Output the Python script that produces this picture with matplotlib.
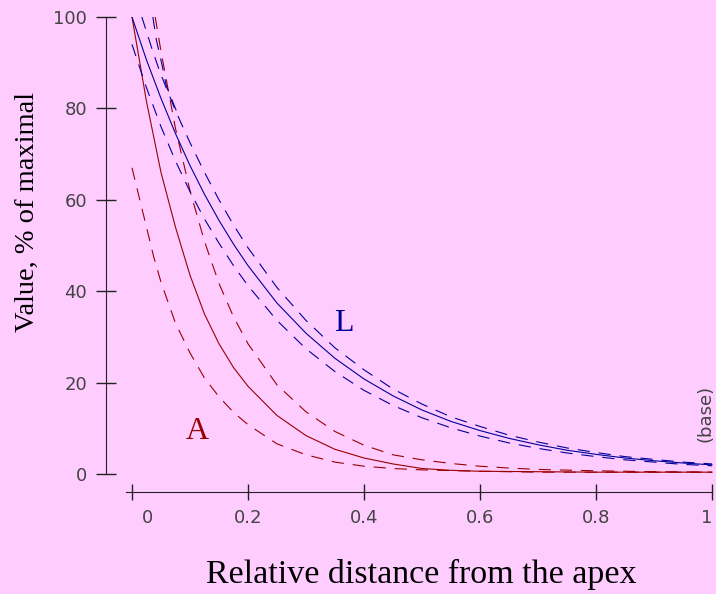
import matplotlib.pyplot as plt
import matplotlib.transforms as mtransforms

# values (x = relative distance, y = % of maximal)
l_x = [0, 0.025, 0.05, 0.075, 0.1, 0.125, 0.15, 0.175, 0.2, 0.25, 0.3, 0.35,
       0.4, 0.45, 0.5, 0.55, 0.6, 0.65, 0.7, 0.75, 0.8, 0.85, 0.9, 0.95, 1.0]
l_mid = [100, 90.6, 82.2, 74.5, 67.5, 61.2, 55.5, 50.3, 45.6, 37.4, 30.8, 25.3,
         20.8, 17.1, 14.0, 11.5, 9.5, 7.8, 6.4, 5.2, 4.3, 3.5, 2.9, 2.4, 2.0]
l_low = [94, 84.5, 76, 68.5, 61.8, 55.8, 50.5, 45.6, 41.2, 33.6, 27.4, 22.4,
         18.3, 15.0, 12.3, 10.1, 8.3, 6.8, 5.6, 4.6, 3.8, 3.1, 2.6, 2.1, 1.8]
l_up_x = [0.017, 0.033, 0.048, 0.075, 0.1, 0.125, 0.15, 0.175, 0.2, 0.25, 0.3,
          0.35, 0.4, 0.45, 0.5, 0.55, 0.6, 0.65, 0.7, 0.75, 0.8, 0.85, 0.9,
          0.95, 1.0]
l_up = [100, 93.6, 88, 79.5, 72.5, 66, 60, 54.5, 49.5, 40.8, 33.6, 27.6, 22.8,
        18.6, 15.3, 12.5, 10.4, 8.5, 7.0, 5.7, 4.7, 3.8, 3.2, 2.6, 2.2]
# short outer blue band near the apex, joins the upper band
l_out_x = [0.036, 0.042, 0.051, 0.059, 0.078]
l_out = [100, 95, 90, 85, 79]

a_x = [0, 0.025, 0.05, 0.075, 0.1, 0.125, 0.15, 0.175, 0.2, 0.25, 0.3, 0.35,
       0.4, 0.45, 0.5, 0.55, 0.6, 0.7, 0.8, 0.9, 1.0]
a_mid = [100, 81.5, 66, 54, 43.5, 35, 28.5, 23.3, 19.2, 12.8, 8.4, 5.4,
         3.5, 2.2, 1.2, 0.8, 0.6, 0.5, 0.4, 0.4, 0.4]
a_up_x = [0.04, 0.05, 0.075, 0.1, 0.125, 0.15, 0.175, 0.2, 0.25, 0.3, 0.35,
          0.4, 0.45, 0.5, 0.55, 0.6, 0.65, 0.7, 0.8, 0.9, 1.0]
a_up = [100, 92.5, 75.6, 62, 50.9, 41.7, 34.4, 28.5, 19.5, 13.6, 9.3,
        6.3, 4.2, 3.1, 2.3, 1.7, 1.3, 1.0, 0.7, 0.5, 0.4]
a_low_x = [0, 0.0125, 0.025, 0.0375, 0.05, 0.075, 0.1, 0.125, 0.15, 0.175,
           0.2, 0.25, 0.3, 0.35, 0.4, 0.45, 0.5, 0.6, 0.7, 0.8, 1.0]
a_low = [67, 60.5, 54, 47.5, 42, 33, 26.5, 21, 16.9, 13.5, 10.8, 6.6, 4.2,
         2.6, 1.7, 1.2, 0.9, 0.6, 0.4, 0.4, 0.4]

x_ticks = [0, 0.2, 0.4, 0.6, 0.8, 1]
x_labels = ["0", "0.2", "0.4", "0.6", "0.8", "1"]
y_ticks = [0, 20, 40, 60, 80, 100]

bg = "#ffccff"
blue = "#000099"
red = "#990000"
dash = (0, (11, 8))

fig = plt.figure(figsize=(7.16, 5.94), dpi=100, facecolor=bg)
ax = fig.add_axes([106 / 716, 1 - 492 / 594, 607 / 716, 475 / 594])
ax.set_facecolor(bg)

# red first, blue drawn over it as in the original
ax.plot(a_x, a_mid, color=red, lw=0.8)
ax.plot(a_up_x, a_up, color=red, lw=0.8, ls=dash)
ax.plot(a_low_x, a_low, color=red, lw=0.8, ls=dash)
ax.plot(l_x, l_mid, color=blue, lw=0.8)
ax.plot(l_up_x, l_up, color=blue, lw=0.8, ls=dash)
ax.plot(l_out_x, l_out, color=blue, lw=0.8, ls=dash)
ax.plot(l_x, l_low, color=blue, lw=0.8, ls=dash)

ax.set_xlim(-0.0448, 1.0017)
ax.set_ylim(-3.94, 100)

for s in ["top", "right"]:
    ax.spines[s].set_visible(False)
ax.spines["left"].set_bounds(0, 100)
ax.spines["bottom"].set_bounds(-0.0103, 1.0)
ax.spines["left"].set_color("#222222")
ax.spines["bottom"].set_color("#222222")

ax.set_xticks(x_ticks)
ax.set_xticklabels(x_labels)
ax.set_yticks(y_ticks)
ax.tick_params(axis="x", direction="inout", length=11, width=1, pad=7,
               labelsize=13, labelcolor="#444444", color="#222222")
ax.tick_params(axis="y", direction="inout", length=15, width=1, pad=6,
               labelsize=13, labelcolor="#444444", color="#222222")
for lab in ax.get_xticklabels() + ax.get_yticklabels():
    lab.set_family("DejaVu Sans")

# the "0" label sits right of its tick in the original, "1" a bit left
xlabs = ax.get_xticklabels()
for lab, dx in [(xlabs[0], 16), (xlabs[-1], -5)]:
    off = mtransforms.ScaledTranslation(dx / 100, 0, fig.dpi_scale_trans)
    lab.set_transform(lab.get_transform() + off)

fig.text(421 / 716, 1 - 583 / 594, "Relative distance from the apex",
         family="Liberation Serif", fontsize=24.5, ha="center", va="baseline")
fig.text(27 / 716, 1 - 212 / 594, "Value, % of maximal",
         family="Liberation Serif", fontsize=20.5, rotation=90,
         ha="center", va="center")

ax.text(0.112, 9.4, "A", color=red, family="Liberation Serif", fontsize=23,
        ha="center", va="center")
ax.text(0.366, 33, "L", color=blue, family="Liberation Serif", fontsize=23,
        ha="center", va="center")
ax.text(0.988, 13.3, "(base)", color="#444444", family="DejaVu Sans",
        fontsize=13, rotation=90, ha="center", va="center")

fig.savefig("out.png", dpi=100, facecolor=bg)
